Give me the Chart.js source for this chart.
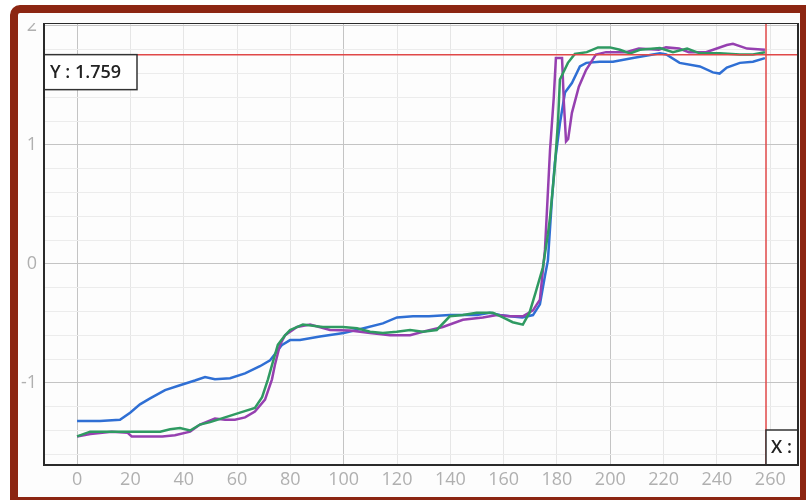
<!DOCTYPE html>
<html>
<head>
<meta charset="utf-8">
<script src="https://cdn.jsdelivr.net/npm/chart.js@4"></script>
<style>
html, body { margin: 0; padding: 0; width: 806px; height: 500px; overflow: hidden; background: #fff; }
#frame {
    position: absolute; left: 10px; top: 5px; width: 782px; height: 484px;
    border-style: solid; border-color: #8c2612; border-width: 8px 6px 8px 8px;
    border-top-left-radius: 10px; background: #fdfdfd;
}
#clip { position: absolute; left: 0; top: 23px; width: 806px; height: 477px; overflow: hidden; }
#clip canvas { position: absolute; left: 0; top: -23px; }
</style>
</head>
<body>
<div id="frame"></div>
<div id="clip"><canvas id="chart" width="806" height="500"></canvas></div>
<script>
// tick values
const X_TICKS = [0, 20, 40, 60, 80, 100, 120, 140, 160, 180, 200, 220, 240, 260];
const X_MAJOR = [0, 100, 200];
const Y_TICKS = [-1.6, -1.4, -1.2, -1, -0.8, -0.6, -0.4, -0.2, 0, 0.2, 0.4, 0.6, 0.8, 1, 1.2, 1.4, 1.6, 1.8, 2];
const Y_LABELS = [-1, 0, 1, 2];

// cursor readout
const CROSS_X = 258.4;
const CROSS_Y = 1.759;

// series
const BLUE_X = [0, 8.6, 16.1, 19.9, 23.6, 27.4, 33, 38.6, 44.2, 48, 51.7, 57.4, 63, 68.6, 72.4, 76.9, 79.9, 83.6, 91.1, 100, 107.5, 114.7, 120, 126, 132, 139.8, 145, 150, 154.8, 158.6, 162.4, 167, 171, 173.6, 175.5, 176.6, 178.1, 179.2, 181.1, 183, 185.6, 188.6, 191, 196, 201, 208.5, 216, 218.6, 221, 226, 233.6, 238.5, 241, 243.7, 248.6, 253.5, 258];
const BLUE_Y = [-1.32, -1.32, -1.31, -1.25, -1.18, -1.13, -1.06, -1.02, -0.98, -0.95, -0.97, -0.96, -0.92, -0.86, -0.81, -0.68, -0.64, -0.64, -0.61, -0.58, -0.54, -0.50, -0.45, -0.44, -0.44, -0.43, -0.43, -0.43, -0.41, -0.43, -0.44, -0.45, -0.43, -0.34, -0.10, 0.03, 0.54, 0.85, 1.18, 1.44, 1.52, 1.66, 1.69, 1.70, 1.70, 1.73, 1.76, 1.77, 1.76, 1.69, 1.66, 1.61, 1.60, 1.65, 1.69, 1.70, 1.73];

const PURPLE_X = [0, 5, 13, 19, 20.5, 25, 32, 36.7, 42.4, 46.1, 51.7, 55.5, 59.2, 63, 66.7, 70.5, 73.1, 74.2, 76.1, 78, 82.5, 87.4, 94.9, 102.4, 109.9, 117.4, 124.9, 129.7, 137.2, 144.7, 152.2, 157.5, 162.4, 167.2, 171, 173.6, 175.5, 177.4, 178.8, 179.6, 181.9, 182.6, 183.4, 184.2, 185.6, 188.2, 190.9, 194.6, 198.4, 205.9, 210.7, 218.2, 220.9, 225.8, 229.5, 235.9, 243.7, 246, 251.3, 258];
const PURPLE_Y = [-1.45, -1.43, -1.41, -1.42, -1.45, -1.45, -1.45, -1.44, -1.41, -1.35, -1.30, -1.31, -1.31, -1.29, -1.24, -1.14, -0.97, -0.85, -0.68, -0.60, -0.53, -0.51, -0.555, -0.56, -0.58, -0.60, -0.60, -0.57, -0.53, -0.47, -0.45, -0.43, -0.44, -0.44, -0.39, -0.30, 0.12, 0.96, 1.40, 1.73, 1.73, 1.35, 1.03, 1.05, 1.27, 1.49, 1.63, 1.76, 1.78, 1.78, 1.81, 1.80, 1.82, 1.81, 1.78, 1.78, 1.84, 1.85, 1.81, 1.80];

const GREEN_X = [0, 4.9, 15, 25, 31.2, 34.9, 38.6, 42.4, 46.1, 49.9, 55.5, 61.1, 66.7, 69.4, 71.6, 73.1, 75.3, 78, 79.9, 84.7, 92.2, 99.7, 105, 109.9, 114.7, 119.9, 124.9, 129.7, 134.9, 139.8, 144.7, 149.9, 155.9, 159.7, 163.4, 167.2, 169.7, 172, 174.7, 176.6, 177.4, 179.2, 180.4, 181.1, 182.2, 184.1, 186.7, 191.2, 195.4, 199.9, 203.6, 207.4, 211.1, 218.6, 223.5, 228.8, 233.6, 241.1, 248.6, 253.5, 258];
const GREEN_Y = [-1.45, -1.41, -1.41, -1.41, -1.41, -1.39, -1.38, -1.40, -1.35, -1.33, -1.29, -1.25, -1.21, -1.12, -0.97, -0.85, -0.68, -0.60, -0.555, -0.51, -0.53, -0.53, -0.54, -0.57, -0.58, -0.57, -0.555, -0.57, -0.555, -0.44, -0.43, -0.41, -0.41, -0.45, -0.49, -0.51, -0.41, -0.24, -0.03, 0.25, 0.39, 0.82, 1.20, 1.55, 1.60, 1.69, 1.765, 1.78, 1.82, 1.82, 1.80, 1.77, 1.80, 1.815, 1.78, 1.81, 1.77, 1.77, 1.76, 1.76, 1.78];

function pts(xs, ys) {
    return xs.map((x, i) => ({ x: x, y: ys[i] }));
}

// plot frame + red cursor with its readout boxes
const cursorPlugin = {
    id: 'cursor',
    afterDatasetsDraw(chart) {
        const ctx = chart.ctx;
        const a = chart.chartArea;
        const xs = chart.scales.x, ys = chart.scales.y;
        const px = xs.getPixelForValue(CROSS_X);
        const py = ys.getPixelForValue(CROSS_Y);

        ctx.save();
        ctx.beginPath();
        ctx.rect(a.left, a.top, a.right - a.left, a.bottom - a.top);
        ctx.clip();

        ctx.strokeStyle = '#e04848';
        ctx.lineWidth = 1.5;
        ctx.beginPath();
        ctx.moveTo(a.left, py); ctx.lineTo(a.right, py);
        ctx.moveTo(px, a.top); ctx.lineTo(px, a.bottom);
        ctx.stroke();

        ctx.font = '600 18px "Open Sans"';
        ctx.textBaseline = 'middle';
        ctx.textAlign = 'left';

        // Y box
        ctx.fillStyle = '#fff';
        ctx.fillRect(a.left, py, 93, 35);
        ctx.strokeStyle = '#333';
        ctx.lineWidth = 1.5;
        ctx.strokeRect(a.left, py, 93, 35);
        ctx.fillStyle = '#222';
        ctx.fillText('Y : ' + CROSS_Y.toFixed(3), a.left + 6, py + 18);

        // X box (runs off the plot edge)
        ctx.fillStyle = '#fff';
        ctx.fillRect(px, a.bottom - 35, 90, 35);
        ctx.strokeRect(px, a.bottom - 35, 90, 35);
        ctx.fillStyle = '#222';
        ctx.fillText('X : ' + CROSS_X.toFixed(1), px + 5, a.bottom - 17);
        ctx.restore();

        ctx.save();
        ctx.strokeStyle = '#2a2a2a';
        ctx.lineWidth = 2;
        ctx.strokeRect(a.left, a.top, a.right - a.left, a.bottom - a.top);
        ctx.restore();
    }
};

const chart = new Chart(document.getElementById('chart').getContext('2d'), {
    type: 'line',
    data: {
        datasets: [
            { label: 'green', data: pts(GREEN_X, GREEN_Y), borderColor: '#2f9a62' },
            { label: 'purple', data: pts(PURPLE_X, PURPLE_Y), borderColor: '#9640b0' },
            { label: 'blue', data: pts(BLUE_X, BLUE_Y), borderColor: '#2f6fd4' }
        ]
    },
    options: {
        responsive: false,
        animation: false,
        layout: { padding: { top: 23, right: 8, left: 0, bottom: 0 } },
        elements: {
            line: { borderWidth: 2.5, tension: 0, fill: false },
            point: { radius: 0 }
        },
        plugins: {
            legend: { display: false },
            tooltip: { enabled: false }
        },
        scales: {
            x: {
                type: 'linear',
                min: -12.4,
                max: 270.4,
                afterBuildTicks: s => { s.ticks = X_TICKS.map(v => ({ value: v })); },
                afterFit: s => { s.height = 35; },
                border: { display: false },
                grid: {
                    drawTicks: false,
                    lineWidth: 1,
                    color: c => X_MAJOR.includes(c.tick && c.tick.value) ? '#c4c4c4' : '#e6e6e6'
                },
                ticks: {
                    autoSkip: false,
                    maxRotation: 0,
                    padding: 4,
                    color: '#b0b0b0',
                    font: { family: '"Open Sans"', size: 18 }
                }
            },
            y: {
                min: -1.69,
                max: 2.025,
                afterBuildTicks: s => { s.ticks = Y_TICKS.map(v => ({ value: v })); },
                afterFit: s => { s.width = 44; },
                border: { display: false },
                grid: {
                    drawTicks: false,
                    lineWidth: 1,
                    color: c => Y_LABELS.includes(c.tick && c.tick.value) ? '#c4c4c4' : '#ececec'
                },
                ticks: {
                    autoSkip: false,
                    padding: 7,
                    color: '#b0b0b0',
                    font: { family: '"Open Sans"', size: 18 },
                    callback: v => Y_LABELS.includes(v) ? String(v) : ''
                }
            }
        }
    },
    plugins: [cursorPlugin]
});
</script>
</body>
</html>
